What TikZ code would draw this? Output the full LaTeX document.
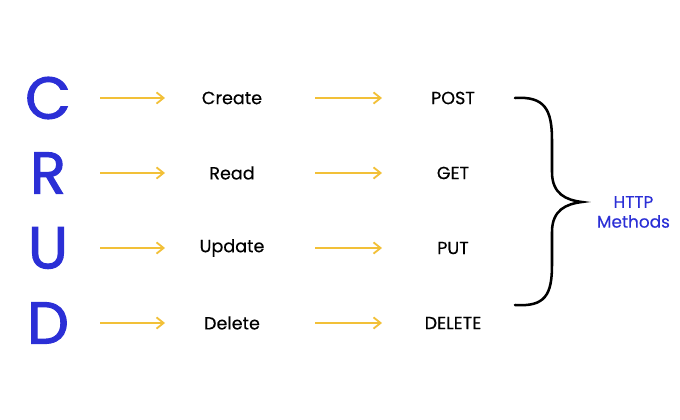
\documentclass[tikz,border=0pt]{standalone}
\usepackage{fontspec}
\setmainfont{Poppins}[FakeBold=0.4]
\newfontface\letterfont{Poppins}[FakeBold=1.8]
\usetikzlibrary{arrows.meta, positioning}
\definecolor{crudblue}{HTML}{2B2FD6}
\definecolor{arrowgold}{HTML}{F2C038}

\begin{document}
\begin{tikzpicture}[x=0.025cm, y=-0.025cm,
  letter/.style={font=\fontsize{42}{46}\letterfont, text=crudblue},
  word/.style={font=\fontsize{12.5}{14}\selectfont},
  link/.style={-{Straight Barb[length=5pt,width=8pt]}, draw=arrowgold, line width=1.3pt}]
\useasboundingbox (0,0) rectangle (680,420);

% Letters, operations and methods
\foreach \l/\op/\m/\y in {C/Create/POST/98, R/Read/GET/173, U/Update/PUT/248, D/Delete/DELETE/323}{
  \node[letter] (let\l) at (48,\y) {\l};
  \node[word] (op\l) at (232,\y) {\op};
  \node[word] (m\l) at (453,\y) {\m};
  \coordinate (a\l) at (100,\y);
  \coordinate (b\l) at (165,\y);
  \coordinate (c\l) at (315,\y);
  \coordinate (d\l) at (382,\y);
  \draw[link] (a\l) -- (b\l);
  \draw[link] (c\l) -- (d\l);
}

% Brace
\coordinate (btop) at (515,98);
\coordinate (bbot) at (515,305);
\coordinate (btip) at (582,202);
\draw[line width=1.8pt, line cap=round] (btop) .. controls (545,96) and (552,110) .. (552,140) -- (552,172)
  .. controls (552,194) and (566,200) .. (btip) .. controls (566,204) and (552,210) .. (552,232) -- (552,265)
  .. controls (552,295) and (545,307) .. (bbot);

\node[font=\fontsize{12}{14}\selectfont, text=crudblue, align=center, anchor=west] (http) at (592,212) {HTTP\\Methods};
\end{tikzpicture}
\end{document}
